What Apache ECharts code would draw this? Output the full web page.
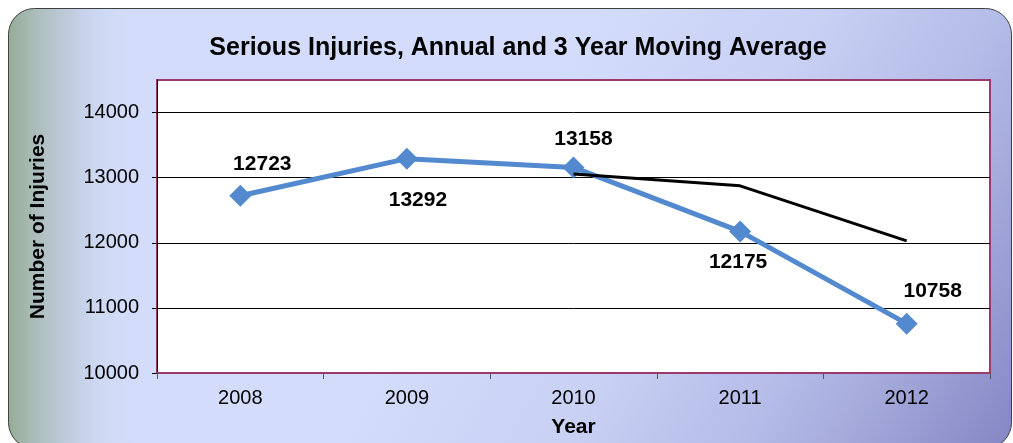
<!DOCTYPE html>
<html>
<head>
<meta charset="utf-8">
<style>
  html, body { margin: 0; padding: 0; background: #ffffff; }
  #main { width: 1013px; height: 443px; }
</style>
<script src="https://cdn.jsdelivr.net/npm/echarts@6/dist/echarts.min.js"></script>
</head>
<body>
<div id="main"></div>
<script>
var years = ['2008', '2009', '2010', '2011', '2012'];
var annual = [12723, 13292, 13158, 12175, 10758];
var movingAvg = [null, null, 13058, 12875, 12030];
// label tweaks per point: where it sits and how far it is nudged
var labelPos = ['top', 'bottom', 'top', 'bottom', 'top'];
var labelShift = [[22, -5], [11, 15], [10, -2], [-2, 4], [26, -6]];

var font = 'Liberation Sans, Arial, sans-serif';
var myChart = echarts.init(document.getElementById('main'));

var annualData = annual.map(function (v, i) {
  return {
    value: v,
    label: { position: labelPos[i], offset: labelShift[i] }
  };
});

var box = { x: 8.5, y: 8.5, width: 1003, height: 440, r: 26 };

myChart.setOption({
  animation: false,
  graphic: [{
    type: 'rect',
    z: -10,
    shape: box,
    style: {
      fill: new echarts.graphic.LinearGradient(8, 8, 1011, 608, [
        { offset: 0, color: '#d3ddfb' },
        { offset: 0.42, color: '#d3ddfb' },
        { offset: 0.6, color: '#c8d0f4' },
        { offset: 0.73, color: '#b4bce8' },
        { offset: 0.8, color: '#a6abdc' },
        { offset: 0.93, color: '#8486c4' },
        { offset: 1, color: '#8082c0' }
      ], true)
    }
  }, {
    type: 'rect',
    z: -9,
    shape: box,
    style: {
      stroke: '#404040',
      lineWidth: 1,
      fill: new echarts.graphic.LinearGradient(8, 0, 135, 0, [
        { offset: 0, color: 'rgba(150,172,148,1)' },
        { offset: 0.5, color: 'rgba(176,192,200,0.55)' },
        { offset: 1, color: 'rgba(211,221,251,0)' }
      ], true)
    }
  }],
  title: {
    text: 'Serious Injuries, Annual and 3 Year Moving Average',
    left: 513,
    textAlign: 'center',
    top: 31,
    textStyle: { fontFamily: font, fontSize: 25, fontWeight: 'bold', color: '#000' }
  },
  grid: {
    left: 157, right: 23, top: 80, bottom: 70,
    show: true,
    backgroundColor: '#ffffff',
    borderColor: '#9c3a6c',
    borderWidth: 2
  },
  xAxis: {
    type: 'category',
    data: years,
    boundaryGap: true,
    name: 'Year',
    nameLocation: 'middle',
    nameGap: 44,
    nameTextStyle: { fontFamily: font, fontSize: 21, fontWeight: 'bold', color: '#000' },
    axisLine: { lineStyle: { color: '#9c3a6c', width: 2 } },
    axisTick: { show: true, length: 6, alignWithLabel: false, lineStyle: { color: '#555' } },
    axisLabel: { fontFamily: font, fontSize: 20, color: '#000', margin: 15 }
  },
  yAxis: {
    type: 'value',
    min: 10000,
    max: 14500,
    interval: 1000,
    name: 'Number of Injuries',
    nameLocation: 'middle',
    nameGap: 108,
    nameTextStyle: { fontFamily: font, fontSize: 21, fontWeight: 'bold', color: '#000' },
    axisLine: { show: true, lineStyle: { color: '#000', width: 1 } },
    axisTick: { show: true, length: 5, lineStyle: { color: '#000' } },
    axisLabel: {
      fontFamily: font, fontSize: 20, color: '#000', margin: 18, showMaxLabel: false,
      formatter: function (v) { return String(v); }
    },
    splitLine: { show: true, showMinLine: false, showMaxLine: false, lineStyle: { color: '#000', width: 1 } }
  },
  series: [{
    name: 'Annual',
    type: 'line',
    data: annualData,
    symbol: 'diamond',
    symbolSize: 22,
    lineStyle: { color: '#5389ce', width: 5 },
    itemStyle: { color: '#5389ce' },
    label: {
      show: true,
      distance: 5,
      fontFamily: font,
      fontSize: 21,
      fontWeight: 'bold',
      color: '#000'
    },
    z: 3
  }, {
    name: '3 Year Moving Average',
    type: 'line',
    data: movingAvg,
    symbol: 'none',
    lineStyle: { color: '#000', width: 3 },
    z: 4
  }]
});
</script>
</body>
</html>
